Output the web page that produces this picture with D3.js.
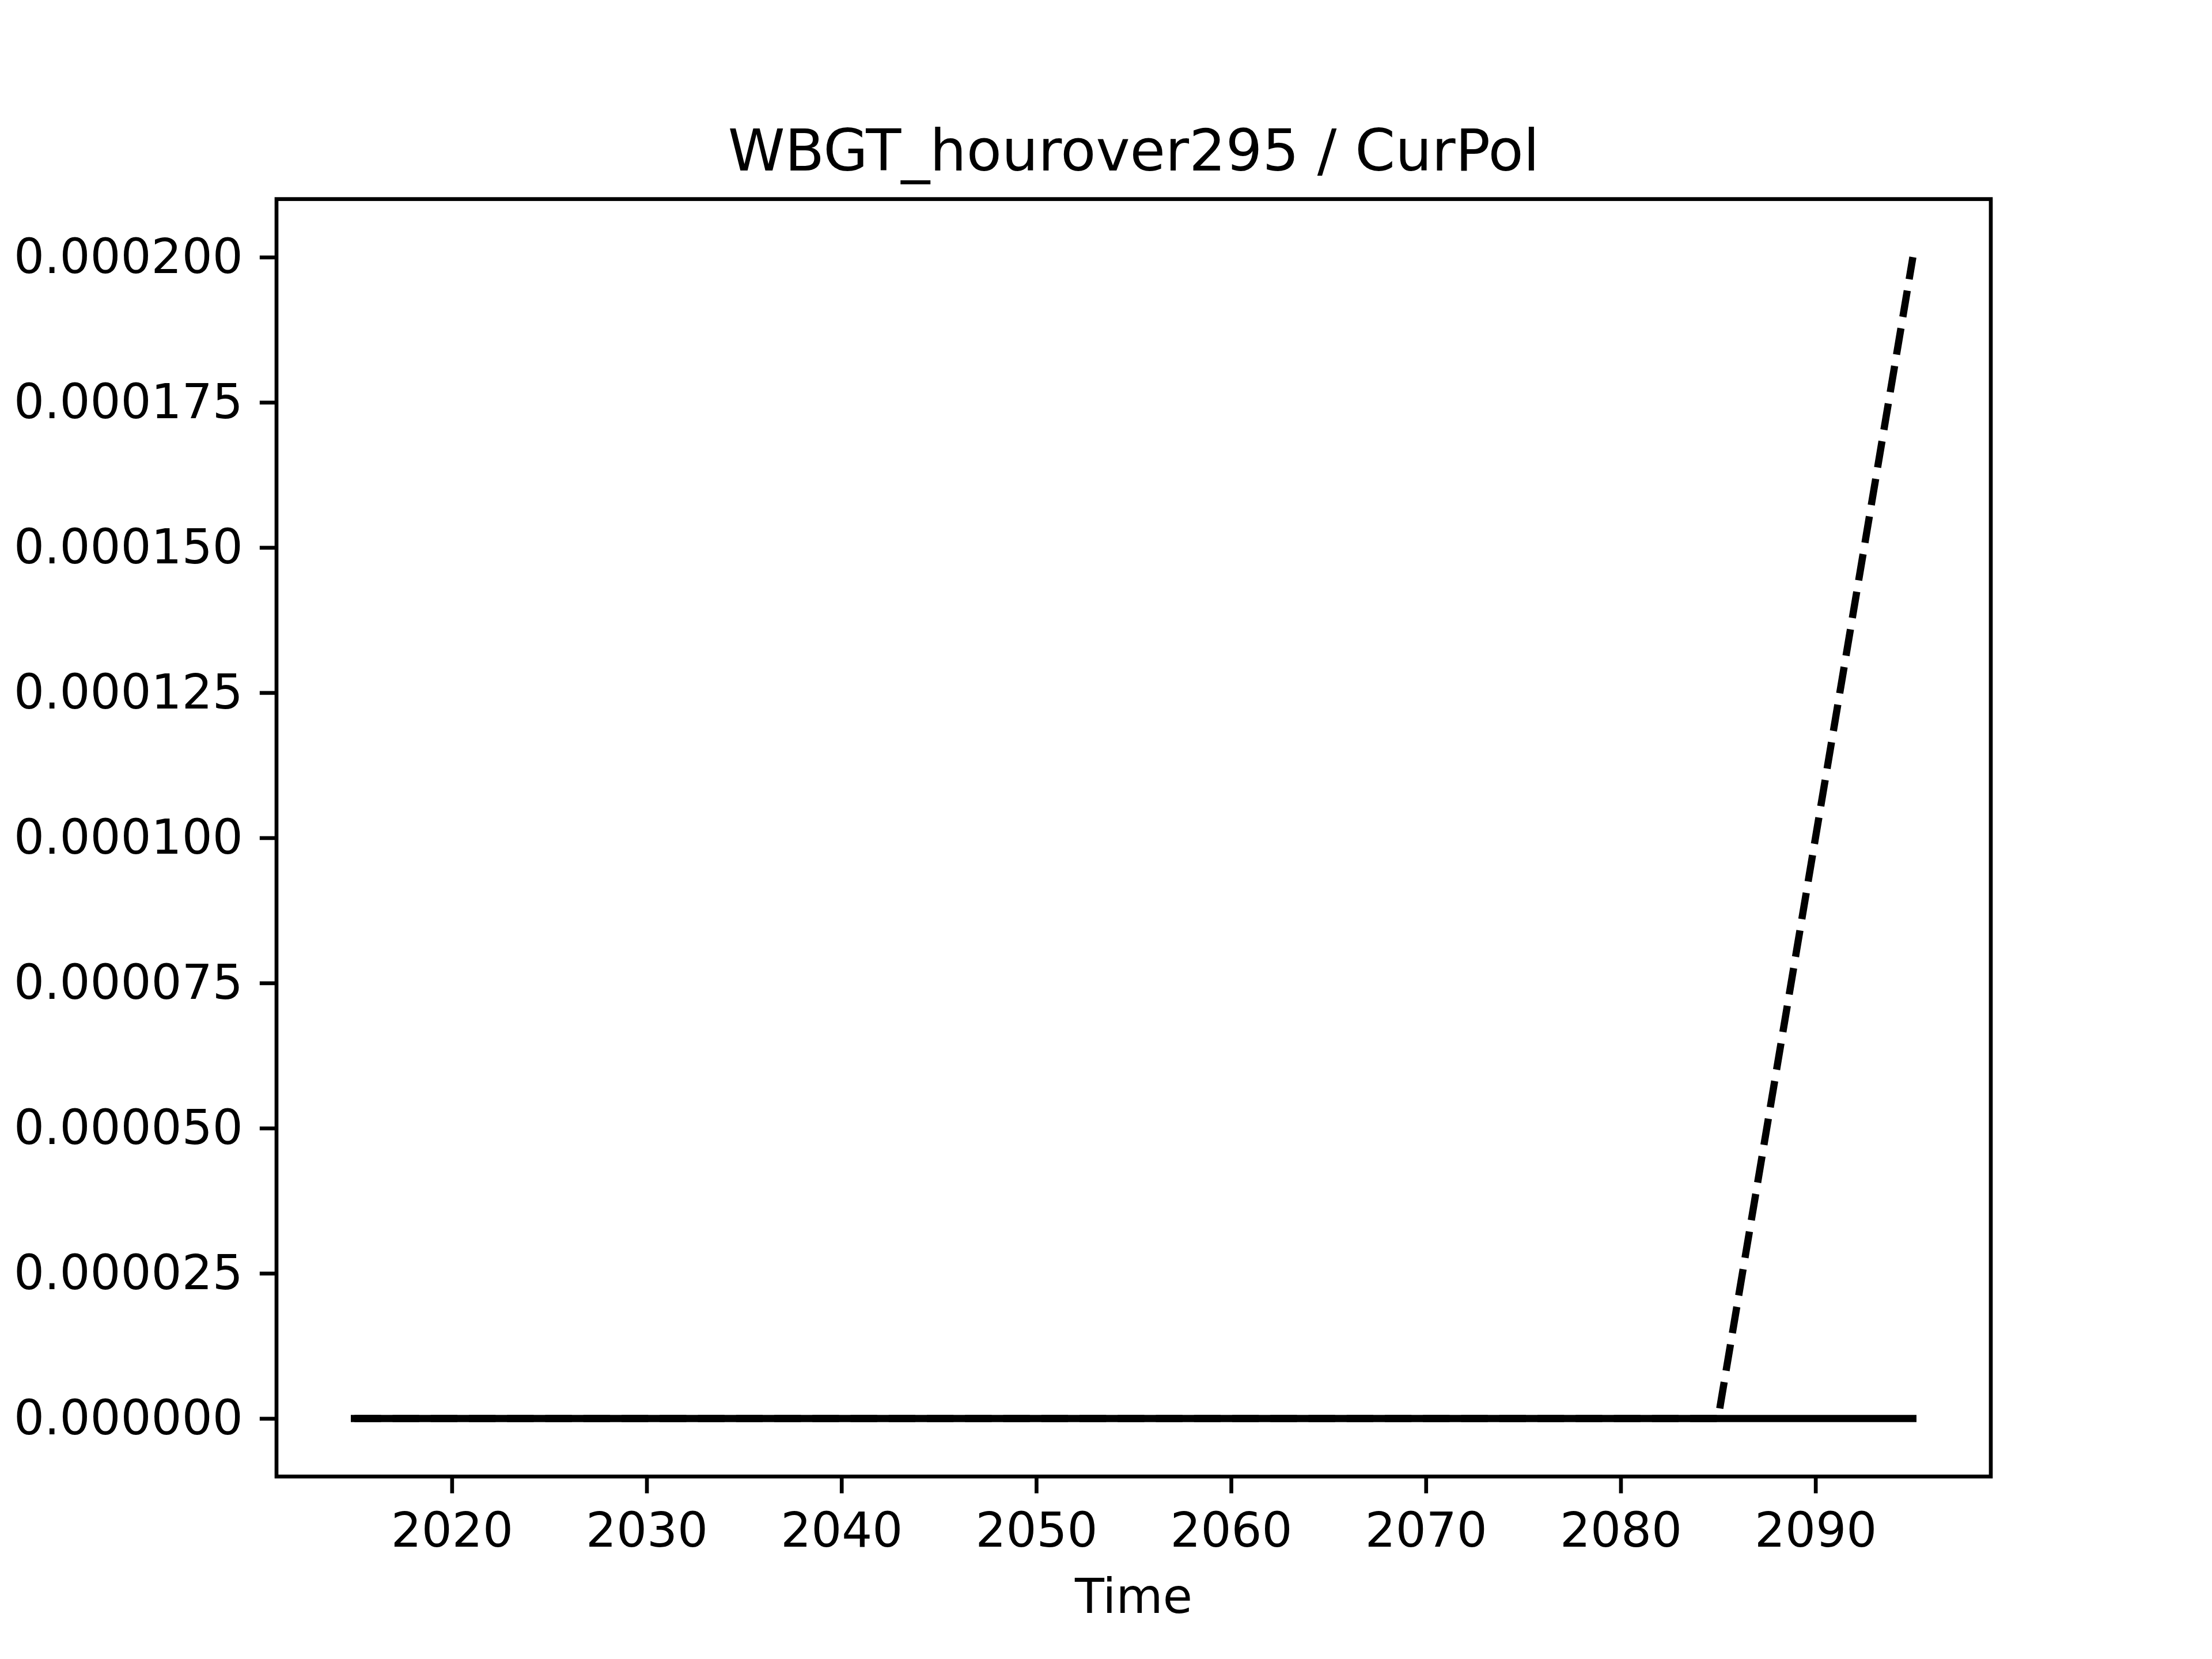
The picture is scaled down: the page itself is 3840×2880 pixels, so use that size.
<!DOCTYPE html>
<html>
<head>
<meta charset="utf-8">
<script src="https://cdn.jsdelivr.net/npm/d3@7"></script>
<style>
  html, body { margin: 0; padding: 0; background: #ffffff; }
  svg { display: block; }
  text { font-family: "DejaVu Sans", sans-serif; fill: #000; }
</style>
</head>
<body>
<script>
// ---- data ----
const years = [2015, 2025, 2035, 2045, 2055, 2065, 2075, 2085, 2095];
const solidValues = [0, 0, 0, 0, 0, 0, 0, 0, 0];
const dashedValues = [0, 0, 0, 0, 0, 0, 0, 0, 0.0002];
const xTicks = [2020, 2030, 2040, 2050, 2060, 2070, 2080, 2090];
const yTicks = [0, 0.000025, 0.00005, 0.000075, 0.0001, 0.000125, 0.00015, 0.000175, 0.0002];
const titleText = "WBGT_hourover295 / CurPol";
const xLabelText = "Time";

(function () {
  // ---- layout ----
  const W = 3840, H = 2880;
  const pLeft = 480, pRight = 3456, pTop = 345.6, pBottom = 2563.2;
  const pt = 600 / 72;
  const axLW = 0.8 * pt, lineLW = 1.5 * pt, tickLen = 3.5 * pt, tickPad = 3.5 * pt;
  const fs = 10 * pt, titleFs = 12 * pt;

  const svg = d3.select("body").append("svg").attr("width", W).attr("height", H);
  svg.append("rect").attr("width", W).attr("height", H).attr("fill", "#fff");

  const xMin = d3.min(years), xMax = d3.max(years);
  const xr = xMax - xMin;
  const x = d3.scaleLinear().domain([xMin - 0.05 * xr, xMax + 0.05 * xr]).range([pLeft, pRight]);
  const allY = solidValues.concat(dashedValues);
  const yMin = d3.min(allY), yMax = d3.max(allY), yr = yMax - yMin;
  const y = d3.scaleLinear().domain([yMin - 0.05 * yr, yMax + 0.05 * yr]).range([pBottom, pTop]);

  const line = d3.line().x((d, i) => x(years[i])).y(d => y(d));

  // dashed series (under)
  svg.append("path")
    .datum(dashedValues)
    .attr("d", line)
    .attr("fill", "none")
    .attr("stroke", "#000")
    .attr("stroke-width", lineLW)
    .attr("stroke-dasharray", `${3.7 * 1.5 * pt} ${1.6 * 1.5 * pt}`)
    .attr("stroke-linecap", "butt")
    .attr("stroke-linejoin", "round");

  // solid series
  svg.append("path")
    .datum(solidValues)
    .attr("d", line)
    .attr("fill", "none")
    .attr("stroke", "#000")
    .attr("stroke-width", lineLW)
    .attr("stroke-linecap", "square")
    .attr("stroke-linejoin", "round");

  // axes
  const xAxis = d3.axisBottom(x).tickValues(xTicks).tickFormat(d3.format("d"))
    .tickSize(tickLen).tickSizeOuter(0).tickPadding(tickPad + 4.2);
  const gx = svg.append("g").attr("transform", `translate(0,${pBottom})`).call(xAxis);
  gx.select(".domain").remove();
  gx.selectAll(".tick line").attr("stroke", "#000").attr("stroke-width", axLW);
  gx.selectAll(".tick text").attr("font-size", fs).attr("font-family", "DejaVu Sans").attr("fill", "#000");

  const yAxis = d3.axisLeft(y).tickValues(yTicks).tickFormat(d3.format(".6f"))
    .tickSize(tickLen).tickSizeOuter(0).tickPadding(tickPad);
  const gy = svg.append("g").attr("transform", `translate(${pLeft},0)`).call(yAxis);
  gy.select(".domain").remove();
  gy.selectAll(".tick line").attr("stroke", "#000").attr("stroke-width", axLW);
  gy.selectAll(".tick text").attr("font-size", fs).attr("font-family", "DejaVu Sans").attr("fill", "#000");

  // frame
  svg.append("rect")
    .attr("x", pLeft).attr("y", pTop)
    .attr("width", pRight - pLeft).attr("height", pBottom - pTop)
    .attr("fill", "none").attr("stroke", "#000").attr("stroke-width", axLW)
    .attr("stroke-linejoin", "miter");

  // title
  svg.append("text")
    .attr("x", (pLeft + pRight) / 2).attr("y", pTop - 6 * pt)
    .attr("text-anchor", "middle")
    .attr("font-size", titleFs)
    .text(titleText);

  // x label
  svg.append("text")
    .attr("x", (pLeft + pRight) / 2).attr("y", 2800)
    .attr("text-anchor", "middle")
    .attr("font-size", fs)
    .text(xLabelText);
})();
</script>
</body>
</html>
